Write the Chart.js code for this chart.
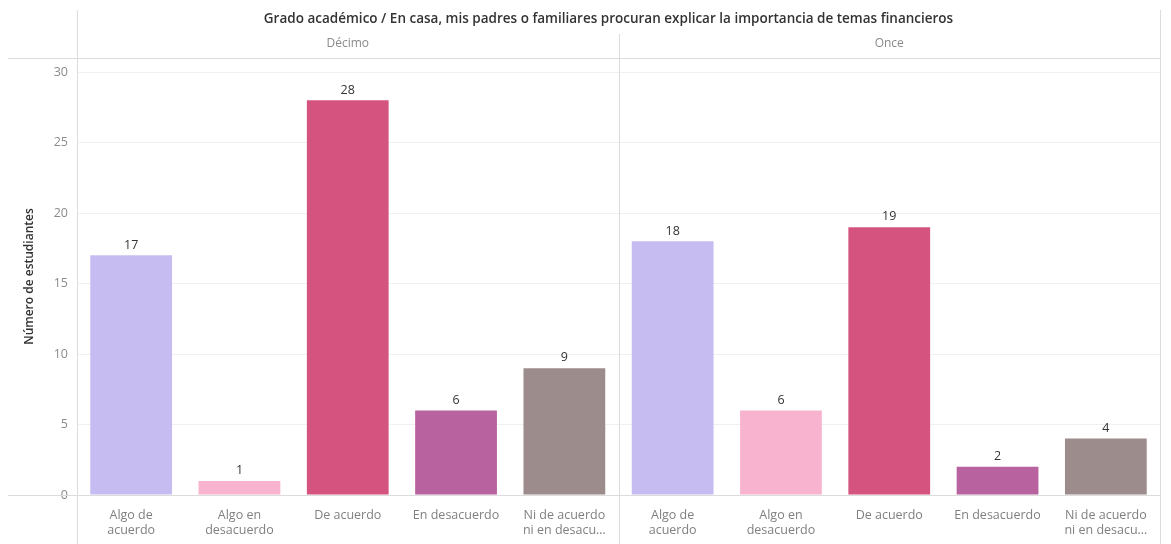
<!DOCTYPE html>
<html>
<head>
<meta charset="utf-8">
<script src="https://cdn.jsdelivr.net/npm/chart.js@4.4.0/dist/chart.umd.min.js"></script>
<style>
  html, body { margin: 0; padding: 0; background: #fff; }
  #wrap { width: 1171px; height: 544px; position: relative; }
</style>
</head>
<body>
<div id="wrap"><canvas id="chart" width="1171" height="544"></canvas></div>
<script>
// data
const panels = ['Décimo', 'Once'];
const categories = [
  ['Algo de', 'acuerdo'],
  ['Algo en', 'desacuerdo'],
  'De acuerdo',
  'En desacuerdo',
  ['Ni de acuerdo', 'ni en desacu…']
];
const decimoValues = [17, 1, 28, 6, 9];
const onceValues = [18, 6, 19, 2, 4];
const yTicks = [0, 5, 10, 15, 20, 25, 30];
const barColors = ['#c6bcf2', '#f8b4cf', '#d4537f', '#b8629f', '#9c8c8c'];

const titleText = 'Grado académico / En casa, mis padres o familiares procuran explicar la importancia de temas financieros';
const FONT = '"Open Sans", Lato, sans-serif';

const labels = categories.concat(categories);
const values = decimoValues.concat(onceValues);
const colors = barColors.concat(barColors);

// headers, panel dividers, value labels
const decor = {
  id: 'decor',
  afterDatasetsDraw(chart) {
    const { ctx, chartArea: a, scales } = chart;
    const x = scales.x;
    const meta = chart.getDatasetMeta(0);
    ctx.save();

    // value labels
    ctx.fillStyle = '#333';
    ctx.font = '12.5px ' + FONT;
    ctx.textAlign = 'center';
    ctx.textBaseline = 'bottom';
    meta.data.forEach((bar, i) => {
      ctx.fillText(String(values[i]), bar.x, bar.y - 4);
    });

    // panel split
    const split = (x.getPixelForValue(categories.length - 1) + x.getPixelForValue(categories.length)) / 2;

    ctx.strokeStyle = '#dcdcdc';
    ctx.lineWidth = 1;
    ctx.beginPath();
    // left axis line
    ctx.moveTo(Math.round(a.left) + 0.5, 10);
    ctx.lineTo(Math.round(a.left) + 0.5, 544);
    // divider
    ctx.moveTo(Math.round(split) + 0.5, 34);
    ctx.lineTo(Math.round(split) + 0.5, 544);
    // right border
    ctx.moveTo(Math.round(a.right) + 0.5, 10);
    ctx.lineTo(Math.round(a.right) + 0.5, 544);
    // line under headers
    ctx.moveTo(8, Math.round(a.top) + 0.5);
    ctx.lineTo(a.right, Math.round(a.top) + 0.5);
    // baseline
    ctx.moveTo(8, Math.round(a.bottom) + 0.5);
    ctx.lineTo(a.right, Math.round(a.bottom) + 0.5);
    ctx.stroke();

    // title
    ctx.textBaseline = 'middle';
    ctx.fillStyle = '#333';
    ctx.font = '600 13.5px ' + FONT;
    ctx.fillText(titleText, (a.left + a.right) / 2 - 10, 19);

    // panel headers
    ctx.fillStyle = '#8a8a8a';
    ctx.font = '12px ' + FONT;
    ctx.fillText(panels[0], (a.left + split) / 2, 44);
    ctx.fillText(panels[1], (split + a.right) / 2, 44);

    ctx.restore();
  }
};

new Chart(document.getElementById('chart'), {
  type: 'bar',
  data: {
    labels: labels,
    datasets: [{
      data: values,
      backgroundColor: colors,
      borderWidth: 0,
      categoryPercentage: 1,
      barPercentage: 0.755
    }]
  },
  options: {
    responsive: false,
    animation: false,
    layout: { padding: { top: 58, right: 11, left: 0, bottom: 0 } },
    plugins: {
      legend: { display: false },
      tooltip: { enabled: false }
    },
    scales: {
      x: {
        grid: { display: false },
        border: { display: false },
        ticks: {
          color: '#808080',
          font: { family: FONT, size: 12.5 },
          maxRotation: 0,
          autoSkip: false,
          padding: 5
        },
        afterFit(s) { s.height = 49; }
      },
      y: {
        min: 0,
        max: 31,
        afterBuildTicks(s) { s.ticks = yTicks.map(v => ({ value: v })); },
        grid: { color: '#f0f0f0', drawTicks: false },
        border: { display: false },
        ticks: {
          color: '#8a8a8a',
          font: { family: FONT, size: 12.5 },
          padding: 9
        },
        title: {
          display: true,
          text: 'Número de estudiantes',
          color: '#333',
          font: { family: FONT, size: 12, weight: '600' },
          padding: { top: 22, bottom: 0 }
        },
        afterFit(s) { s.width = 77; }
      }
    }
  },
  plugins: [decor]
});
</script>
</body>
</html>
